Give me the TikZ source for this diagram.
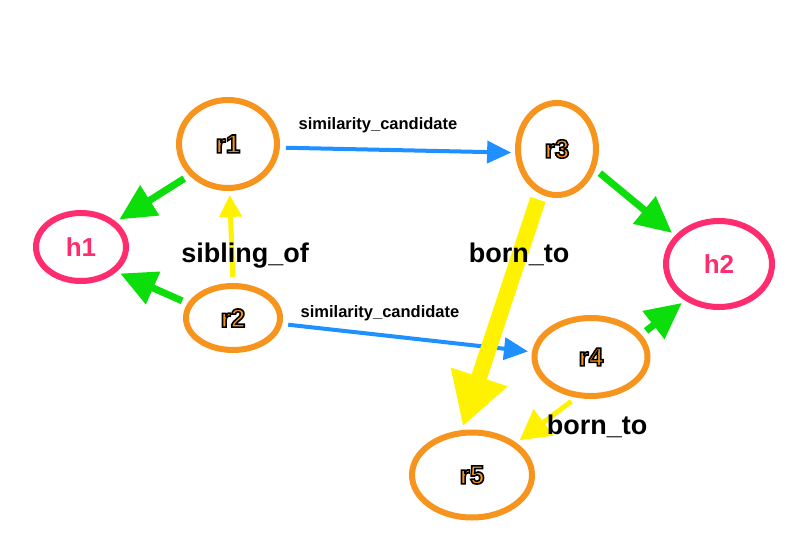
\documentclass[tikz,border=0pt]{standalone}
\usepackage{fontspec}
\setmainfont{Liberation Sans}
\usetikzlibrary{shapes.geometric,arrows.meta}
\definecolor{cOrange}{RGB}{247,148,30}
\definecolor{cPink}{RGB}{255,45,110}
\definecolor{cGreen}{RGB}{12,222,12}
\definecolor{cBlue}{RGB}{30,144,255}
\definecolor{cYellow}{RGB}{255,242,0}
\tikzset{
  rnode/.style={ellipse, draw=cOrange, line width=6pt, inner sep=0pt,
    font=\fontsize{26}{26}\selectfont\bfseries},
  hnode/.style={ellipse, draw=cPink, line width=6pt, inner sep=0pt,
    font=\fontsize{26}{26}\selectfont\bfseries},
  biglabel/.style={font=\fontsize{27}{27}\selectfont\bfseries, inner sep=0pt},
  smalllabel/.style={font=\fontsize{16.5}{16.5}\selectfont\bfseries, inner sep=0pt},
  greenarrow/.style={draw=cGreen, line width=7pt,
    -{Triangle[length=36pt,width=34pt]}, shorten <=6pt, shorten >=4pt},
  bluearrow/.style={draw=cBlue, line width=4pt,
    -{Triangle[length=24pt,width=22pt]}, shorten <=6pt, shorten >=4pt},
  yellowarrow/.style={draw=cYellow, line width=5pt,
    -{Triangle[length=26pt,width=24pt]}, shorten <=6pt, shorten >=4pt},
}
\newcommand{\rlab}[1]{\textcolor{cOrange}{\special{pdf:literal direct 0 0 0 RG 1.6 w 2 Tr}#1\special{pdf:literal direct 0 Tr}}}
\newcommand{\hlab}[1]{\textcolor{cPink}{#1}}
\begin{document}
\begin{tikzpicture}[x=1pt,y=1pt]
\useasboundingbox[fill=white] (0,0) rectangle (800,544);
% nodes
\node[rnode, minimum width=98pt, minimum height=88pt] (r1) at (228,400) {\rlab{r1}};
\node[hnode, minimum width=90pt, minimum height=68pt] (h1) at (81,297) {\hlab{h1}};
\node[rnode, minimum width=94pt, minimum height=64pt] (r2) at (233,226) {\rlab{r2}};
\node[rnode, minimum width=78pt, minimum height=92pt] (r3) at (557,395) {\rlab{r3}};
\node[hnode, minimum width=106pt, minimum height=86pt] (h2) at (719,280) {\hlab{h2}};
\node[rnode, minimum width=113pt, minimum height=78pt] (r4) at (591,187) {\rlab{r4}};
\node[rnode, minimum width=120pt, minimum height=85pt] (r5) at (472,69) {\rlab{r5}};
% edges
\draw[greenarrow] (r1.219) -- (h1.36);
\draw[greenarrow] (r2.162) -- (h1.325);
\draw[yellowarrow, -{Triangle[length=22pt,width=22pt]}] (r2.90) -- (r1.272);
\draw[bluearrow] (r1.356) -- (r3.185);
\draw[bluearrow] (r2.353) -- (r4.175);
\draw[greenarrow] (r3.332) -- (h2.147);
\draw[greenarrow] (r4.24) -- (h2.227);
\draw[yellowarrow, line width=16pt, -{Triangle[length=52pt,width=56pt]}] (r3.249) -- (r5.103);
\draw[yellowarrow, -{Triangle[length=30pt,width=32pt]}] (r4.250) -- (r5.36);
% labels
\node[biglabel] (lsib) at (245,288) {sibling\_of};
\node[smalllabel] (lsim1) at (378,419) {similarity\_candidate};
\node[smalllabel] (lsim2) at (380,231) {similarity\_candidate};
\node[biglabel] (lborn1) at (519,290) {born\_to};
\node[biglabel] (lborn2) at (597,118) {born\_to};
\end{tikzpicture}
\end{document}
